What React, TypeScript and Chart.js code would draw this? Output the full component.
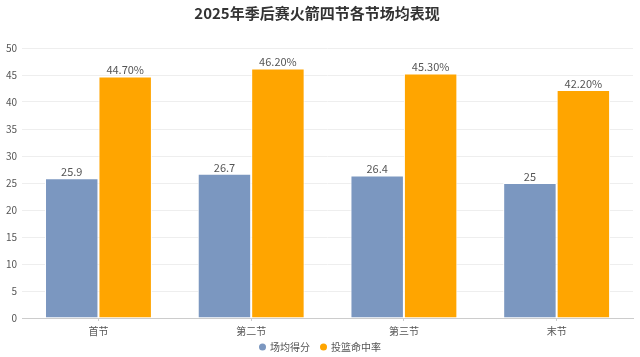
import React, { useEffect, useRef } from "react";
import { Chart, registerables } from "chart.js";

Chart.register(...registerables);

const title = "2025年季后赛火箭四节各节场均表现";
const categories = ["首节", "第二节", "第三节", "末节"];
const seriesNames = ["场均得分", "投篮命中率"];
const avgPoints = [25.9, 26.7, 26.4, 25];
const fgPct = [44.7, 46.2, 45.3, 42.2];
const seriesColors = ["#7b97c0", "#ffa500"];
const yTicksMax = 50;
const yStep = 5;

const FONT = "'Noto Sans CJK SC', 'Noto Sans', sans-serif";

const valueLabels = {
  id: "valueLabels",
  afterDatasetsDraw(chart: any) {
    const ctx = chart.ctx;
    ctx.save();
    ctx.font = `11px ${FONT}`;
    ctx.fillStyle = "#555";
    ctx.textAlign = "center";
    ctx.textBaseline = "bottom";
    chart.data.datasets.forEach((ds: any, di: number) => {
      const meta = chart.getDatasetMeta(di);
      meta.data.forEach((bar: any, i: number) => {
        const v = ds.data[i];
        const txt = di === 1 ? v.toFixed(2) + "%" : String(v);
        ctx.fillText(txt, bar.x, bar.y - 1);
      });
    });
    ctx.restore();
  },
};

const bottomLegend = {
  id: "bottomLegend",
  afterDraw(chart: any) {
    const ctx = chart.ctx;
    ctx.save();
    ctx.font = `10px ${FONT}`;
    ctx.textBaseline = "middle";
    ctx.textAlign = "left";
    const r = 3.5;
    const gapDotText = 4;
    const gapItems = 10;
    const widths = seriesNames.map((n) => r * 2 + gapDotText + ctx.measureText(n).width);
    const total = widths.reduce((a, b) => a + b, 0) + gapItems * (seriesNames.length - 1);
    let x = chart.width / 2 - total / 2;
    const y = 347;
    seriesNames.forEach((n, i) => {
      ctx.fillStyle = seriesColors[i];
      ctx.beginPath();
      ctx.arc(x + r, y, r, 0, Math.PI * 2);
      ctx.fill();
      ctx.fillStyle = "#555";
      ctx.fillText(n, x + r * 2 + gapDotText, y);
      x += widths[i] + gapItems;
    });
    ctx.restore();
  },
};

export default function App() {
  const ref = useRef<HTMLCanvasElement>(null);
  useEffect(() => {
    if (!ref.current) return;
    const chart = new Chart(ref.current, {
      type: "bar",
      data: {
        labels: categories,
        datasets: [
          {
            label: seriesNames[0],
            data: avgPoints,
            backgroundColor: seriesColors[0],
            borderColor: "#ffffff",
            borderWidth: 1,
            categoryPercentage: 0.7,
            barPercentage: 1,
          },
          {
            label: seriesNames[1],
            data: fgPct,
            backgroundColor: seriesColors[1],
            borderColor: "#ffffff",
            borderWidth: 1,
            categoryPercentage: 0.7,
            barPercentage: 1,
          },
        ],
      },
      options: {
        animation: false,
        responsive: false,
        maintainAspectRatio: false,
        layout: { padding: { left: 1, right: 7, top: 0, bottom: 16 } },
        plugins: {
          title: {
            display: true,
            text: title,
            color: "#333",
            font: { family: FONT, size: 15, weight: "bold" },
            padding: { top: 4, bottom: 26 },
          },
          legend: { display: false },
          tooltip: { enabled: false },
        },
        scales: {
          x: {
            grid: {
              display: true,
              drawOnChartArea: false,
              drawTicks: true,
              tickLength: 3,
              offset: false,
              color: "#ccc",
            },
            border: { color: "#ccc" },
            ticks: { color: "#555", font: { family: FONT, size: 10 }, padding: 4 },
          },
          y: {
            min: 0,
            max: yTicksMax,
            ticks: { stepSize: yStep, color: "#555", font: { family: FONT, size: 10 }, padding: 5 },
            grid: { color: "#eeeeee", drawTicks: false },
            border: { display: false },
          },
        },
      },
      plugins: [valueLabels, bottomLegend],
    });
    return () => chart.destroy();
  }, []);
  return (
    <div style={{ position: "absolute", left: 0, top: 0, width: 640, height: 357, background: "#fff" }}>
      <canvas ref={ref} width={640} height={357} />
    </div>
  );
}
